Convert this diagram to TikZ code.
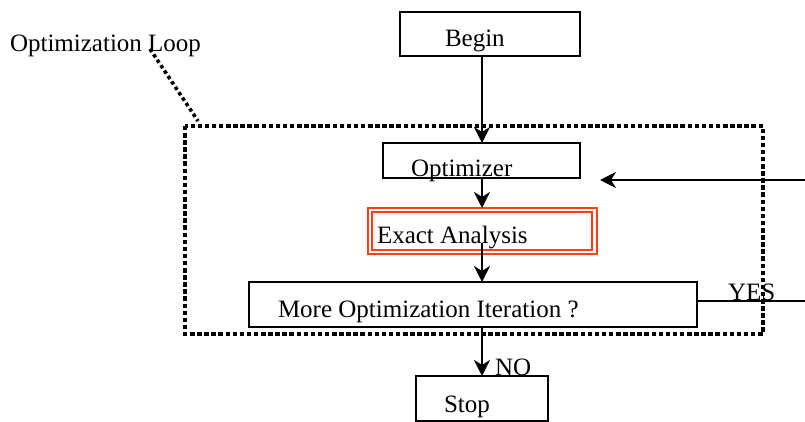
\documentclass[tikz,border=0pt]{standalone}
\usepackage{fontspec}
\setmainfont{Liberation Serif}
\usetikzlibrary{arrows.meta}
\definecolor{boxred}{RGB}{255,64,20}
\begin{document}
\begin{tikzpicture}[x=1pt,y=-1pt,
  every node/.style={inner sep=0pt,outer sep=0pt},
  box/.style={draw=black,line width=2.2pt,fill=none},
  lbl/.style={anchor=base west,font=\fontsize{25}{30}\selectfont},
  conn/.style={line width=2.2pt,-{Stealth[length=16pt,width=16pt,inset=5pt]}},
  loop/.style={line width=4.5pt,dash pattern=on 4.5pt off 2.6pt},
  lead/.style={line width=3.5pt,dash pattern=on 3.5pt off 3pt}]
\useasboundingbox (0,0) rectangle (805,422);
% dotted loop frame
\draw[loop] (185,126) rectangle (763,334);
% boxes
\node[box,minimum width=180pt,minimum height=44pt] (begin) at (490,34) {};
\node[box,minimum width=197pt,minimum height=35pt] (opt) at (481.5,160.5) {};
\node[draw=boxred,line width=2pt,minimum width=229pt,minimum height=46pt] (exact) at (482.5,231) {};
\draw[boxred,line width=1.8pt] (372,212) rectangle (592,250);
\node[box,minimum width=448pt,minimum height=45pt] (more) at (473,304.5) {};
\node[box,minimum width=132pt,minimum height=45pt] (stop) at (482,398.5) {};
% texts
\node[lbl] (tloop) at (10,52) {Optimization Loop};
\node[lbl] (tbegin) at (445,47) {Begin};
\node[lbl] (topt) at (411,177) {Optimizer};
\node[lbl] (texact) at (377,243) {Exact Analysis};
\node[lbl] (tmore) at (278,317) {More Optimization Iteration ?};
\node[lbl] (tstop) at (444,412) {Stop};
\node[lbl] (tno) at (495,375) {NO};
\node[lbl] (tyes) at (728,300) {YES};
% coordinates
\coordinate (leadA) at (150,49);
\coordinate (leadB) at (198,121);
\coordinate (exA) at (482,243);
\coordinate (yesEnd) at (805,301);
\coordinate (backStart) at (805,180);
\coordinate (backEnd) at (600,180);
% connectors
\draw[lead] (leadA) -- (leadB);
\draw[conn] (begin.south -| exA) -- (opt.north -| exA);
\draw[conn] (opt.south -| exA) -- (exact.north -| exA);
\draw[conn] (exA) -- (more.north -| exA);
\draw[conn] (more.south -| exA) -- (stop.north -| exA);
\draw[line width=2.2pt] (more.east |- yesEnd) -- (yesEnd);
\draw[conn] (backStart) -- (backEnd);
\end{tikzpicture}
\end{document}
